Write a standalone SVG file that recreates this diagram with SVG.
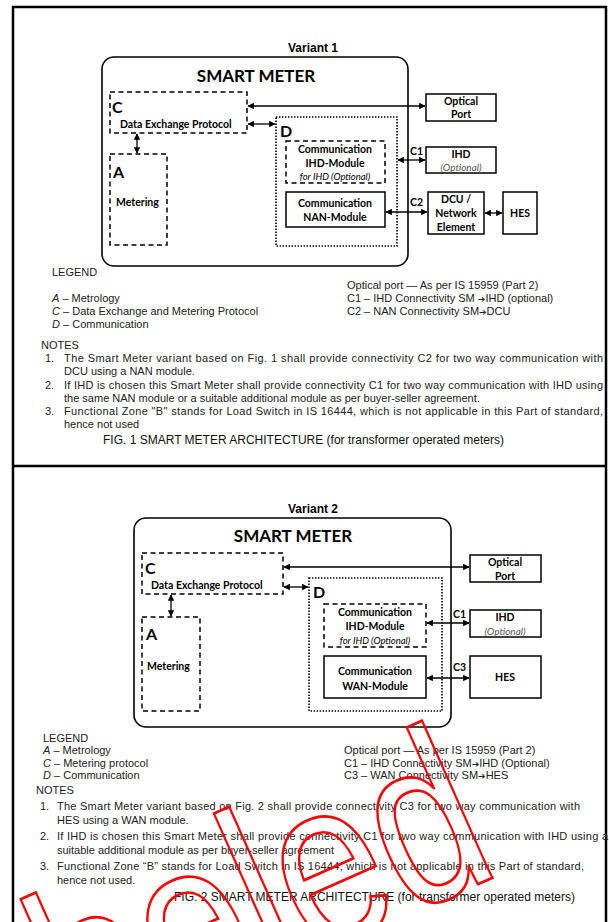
<svg xmlns="http://www.w3.org/2000/svg" width="609" height="922" viewBox="0 0 609 922">
<defs>
<marker id="ah" viewBox="0 0 10 10" refX="9" refY="5" markerWidth="6.5" markerHeight="6.5" orient="auto-start-reverse" markerUnits="userSpaceOnUse"><path d="M0,0 L10,5 L0,10 z" fill="#000"/></marker>
<style>
.frame{fill:none;stroke:#000;stroke-width:2.5}
.meter{fill:none;stroke:#000;stroke-width:1.6}
.dash{fill:none;stroke:#000;stroke-width:1.5;stroke-dasharray:5 3.5}
.dot{fill:none;stroke:#000;stroke-width:1.6;stroke-dasharray:1.4 1.6}
.box{fill:none;stroke:#000;stroke-width:1.5}
.con{fill:none;stroke:#000;stroke-width:1.3;marker-start:url(#ah);marker-end:url(#ah)}
.var{font-family:"Liberation Sans",Arial,sans-serif;font-weight:bold;font-size:12px;text-anchor:middle}
.sm{font-family:Lato,"Open Sans",sans-serif;font-weight:bold;font-size:17px;text-anchor:middle}
.big{font-family:Lato,"Open Sans",sans-serif;font-weight:bold;font-size:16px}
.lb{font-family:Lato,"Open Sans",sans-serif;font-weight:bold;font-size:10.5px}
.lc{font-family:Lato,"Open Sans",sans-serif;font-weight:bold;font-size:10.5px;text-anchor:middle}
.it{font-family:Lato,"Open Sans",sans-serif;font-style:italic;font-size:9.5px;text-anchor:middle}
.opt{font-family:Lato,"Open Sans",sans-serif;font-style:italic;font-size:10px;text-anchor:middle;fill:#555}
.tx{font-family:"Liberation Sans",Arial,sans-serif;font-size:11px;fill:#222}
.ar{font-family:"DejaVu Sans",sans-serif;font-size:9px}
.fig{font-family:"Liberation Sans",Arial,sans-serif;font-size:12px;fill:#111}
.wm{font-family:"Liberation Sans",Arial,sans-serif;font-size:190px;fill:none;stroke:#f00;stroke-width:2.5;vector-effect:non-scaling-stroke}
</style>
</defs>
<rect width="609" height="922" fill="#fff"/>
<g id="frame">
<path class="frame" d="M13,922 V7 H606 V922 M13,466 H606"/>
</g>

<!-- Panel 1 -->
<text class="var" x="313" y="52">Variant 1</text>
<g id="meter1"><rect class="meter" x="102" y="57" width="306" height="209" rx="12"/><text class="sm" x="256" y="82">SMART METER</text></g>
<g id="c1box"><rect class="dash" x="110" y="92" width="137" height="41"/><text class="big" x="112" y="113">C</text><text class="lb" x="120" y="128">Data Exchange Protocol</text></g>
<g id="a1box"><rect class="dash" x="110" y="154" width="57" height="91"/><text class="big" x="113" y="178">A</text><text class="lb" x="116" y="206">Metering</text></g>
<g id="d1box"><rect class="dot" x="276" y="117" width="121" height="129"/><text class="big" x="280" y="137">D</text></g>
<g id="ihdmod1"><rect class="dash" x="286" y="141" width="99" height="42"/><text class="lc" x="335" y="153">Communication</text><text class="lc" x="335" y="167">IHD-Module</text><text class="it" x="335" y="180">for IHD (Optional)</text></g>
<g id="nan1"><rect class="box" x="286" y="192" width="99" height="35"/><text class="lc" x="335" y="207">Communication</text><text class="lc" x="335" y="221">NAN-Module</text></g>
<g id="optical1"><rect class="box" x="426" y="94" width="70" height="27"/><text class="lc" x="461" y="105">Optical</text><text class="lc" x="461" y="118">Port</text></g>
<g id="ihd1"><rect class="box" x="426" y="147" width="70" height="26"/><text class="lc" x="461" y="158">IHD</text><text class="opt" x="461" y="171">(Optional)</text></g>
<g id="dcu1"><rect class="box" x="428" y="192" width="56" height="42"/><text class="lc" x="456" y="203">DCU /</text><text class="lc" x="456" y="217">Network</text><text class="lc" x="456" y="231">Element</text></g>
<g id="hes1"><rect class="box" x="503" y="192" width="34" height="42"/><text class="lc" x="520" y="217">HES</text></g>
<g id="connectors1">
<line class="con" x1="137" y1="134" x2="137" y2="153"/>
<line class="con" x1="248" y1="124" x2="275" y2="124"/>
<line class="con" x1="248" y1="106" x2="425" y2="106"/>
<line class="con" x1="398" y1="160" x2="425" y2="160"/>
<line class="con" x1="386" y1="212" x2="427" y2="212"/>
<line class="con" x1="485" y1="213" x2="502" y2="213"/>
<text class="lb" x="410" y="155">C1</text>
<text class="lb" x="410" y="206">C2</text>
</g>

<g id="legend1" class="tx">
<text x="52" y="276">LEGEND</text>
<text x="52" y="302"><tspan font-style="italic">A</tspan> – Metrology</text>
<text x="52" y="315"><tspan font-style="italic">C</tspan> – Data Exchange and Metering Protocol</text>
<text x="52" y="328"><tspan font-style="italic">D</tspan> – Communication</text>
<text x="347" y="289">Optical port — As per IS 15959 (Part 2)</text>
<text x="347" y="302">C1 – IHD Connectivity SM <tspan class="ar">➔</tspan>IHD (optional)</text>
<text x="347" y="315">C2 – NAN Connectivity SM<tspan class="ar">➔</tspan>DCU</text>
<text x="41" y="349">NOTES</text>
<text x="45" y="362">1.</text><text x="64" y="362" textLength="539" lengthAdjust="spacing">The Smart Meter variant based on Fig. 1 shall provide connectivity C2 for two way communication with</text>
<text x="64" y="375">DCU using a NAN module.</text>
<text x="45" y="389">2.</text><text x="64" y="389" textLength="539" lengthAdjust="spacing">If IHD is chosen this Smart Meter shall provide connectivity C1 for two way communication with IHD using</text>
<text x="64" y="402">the same NAN module or a suitable additional module as per buyer-seller agreement.</text>
<text x="45" y="415">3.</text><text x="64" y="415" textLength="539" lengthAdjust="spacing">Functional Zone "B" stands for Load Switch in IS 16444, which is not applicable in this Part of standard,</text>
<text x="64" y="428">hence not used</text>
</g>
<text class="fig" x="103" y="444">FIG. 1 SMART METER ARCHITECTURE (for transformer operated meters)</text>

<!-- Panel 2 -->
<text class="var" x="313" y="513">Variant 2</text>
<g id="meter2"><rect class="meter" x="134" y="518" width="317" height="209" rx="12"/><text class="sm" x="293" y="542">SMART METER</text></g>
<g id="c2box"><rect class="dash" x="142" y="553" width="141" height="41"/><text class="big" x="145" y="574">C</text><text class="lb" x="151" y="589">Data Exchange Protocol</text></g>
<g id="a2box"><rect class="dash" x="142" y="617" width="58" height="94"/><text class="big" x="146" y="640">A</text><text class="lb" x="147" y="670">Metering</text></g>
<g id="d2box"><rect class="dot" x="309" y="578" width="133" height="133"/><text class="big" x="313" y="598">D</text></g>
<g id="ihdmod2"><rect class="dash" x="324" y="604" width="102" height="43"/><text class="lc" x="375" y="616">Communication</text><text class="lc" x="375" y="630">IHD-Module</text><text class="it" x="375" y="644">for IHD (Optional)</text></g>
<g id="wan2"><rect class="box" x="324" y="656" width="102" height="42"/><text class="lc" x="375" y="675">Communication</text><text class="lc" x="375" y="690">WAN-Module</text></g>
<g id="optical2"><rect class="box" x="470" y="555" width="71" height="27"/><text class="lc" x="505" y="566">Optical</text><text class="lc" x="505" y="580">Port</text></g>
<g id="ihd2"><rect class="box" x="470" y="610" width="71" height="27"/><text class="lc" x="505" y="621">IHD</text><text class="opt" x="505" y="635">(Optional)</text></g>
<g id="hes2"><rect class="box" x="470" y="656" width="71" height="42"/><text class="lc" x="505" y="681">HES</text></g>
<g id="connectors2">
<line class="con" x1="171" y1="595" x2="171" y2="616"/>
<line class="con" x1="284" y1="587" x2="308" y2="587"/>
<line class="con" x1="284" y1="567" x2="469" y2="567"/>
<line class="con" x1="427" y1="623" x2="469" y2="623"/>
<line class="con" x1="427" y1="678" x2="469" y2="678"/>
<text class="lb" x="453" y="618">C1</text>
<text class="lb" x="453" y="671">C3</text>
</g>

<g id="legend2" class="tx">
<text x="43" y="742">LEGEND</text>
<text x="43" y="754"><tspan font-style="italic">A</tspan> – Metrology</text>
<text x="43" y="767"><tspan font-style="italic">C</tspan> – Metering protocol</text>
<text x="43" y="779"><tspan font-style="italic">D</tspan> – Communication</text>
<text x="344" y="754">Optical port — As per IS 15959 (Part 2)</text>
<text x="344" y="767">C1 – IHD Connectivity SM<tspan class="ar">➔</tspan>IHD (Optional)</text>
<text x="344" y="779">C3 – WAN Connectivity SM<tspan class="ar">➔</tspan>HES</text>
<text x="36" y="794">NOTES</text>
<text x="40" y="810">1.</text><text x="57" y="810" textLength="523" lengthAdjust="spacing">The Smart Meter variant based on Fig. 2 shall provide connectivity C3 for two way communication with</text>
<text x="57" y="824">HES using a WAN module.</text>
<text x="40" y="840">2.</text><text x="57" y="840" textLength="551" lengthAdjust="spacing">If IHD is chosen this Smart Meter shall provide connectivity C1 for two way communication with IHD using a</text>
<text x="57" y="854">suitable additional module as per buyer-seller agreement</text>
<text x="40" y="870">3.</text><text x="57" y="870" textLength="527" lengthAdjust="spacing">Functional Zone “B” stands for Load Switch in IS 16444, which is not applicable in this Part of standard,</text>
<text x="57" y="884">hence not used.</text>
</g>
<text class="fig" x="174" y="901">FIG. 2 SMART METER ARCHITECTURE (for transformer operated meters)</text>

<text class="wm" transform="translate(-56,1122) rotate(-24) scale(1,1.25)">labeled</text>
</svg>
